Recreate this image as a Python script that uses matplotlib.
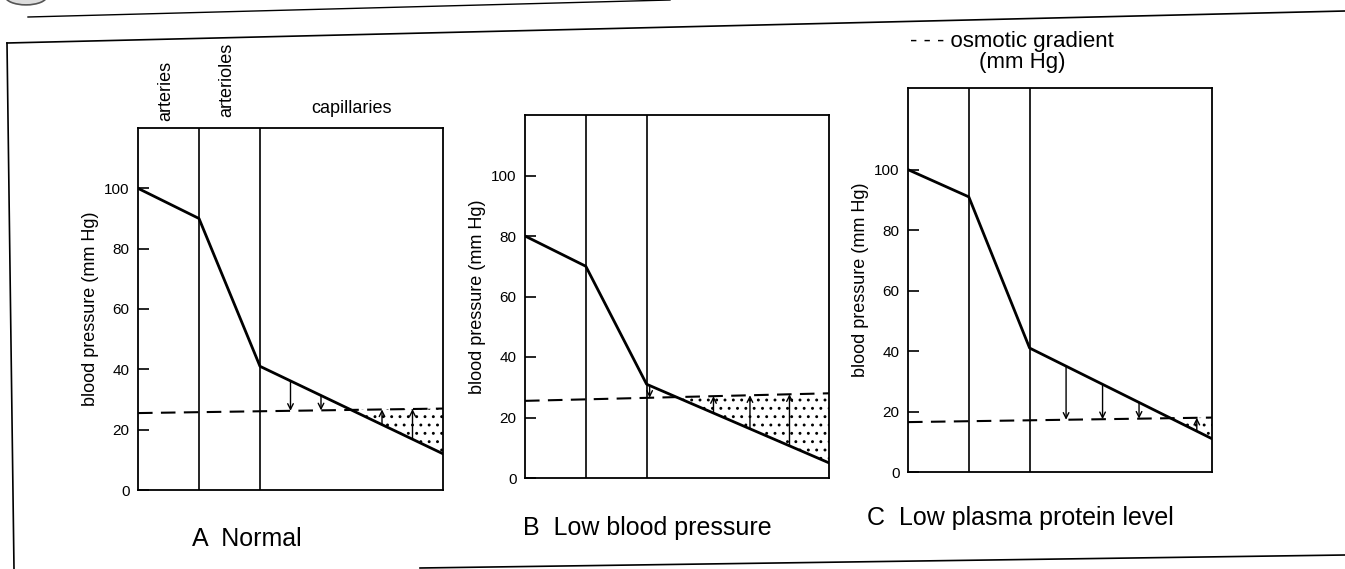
import numpy as np
import matplotlib
matplotlib.use("Agg")
import matplotlib.pyplot as plt
from matplotlib.lines import Line2D
from matplotlib.patches import Circle

plt.rcParams["font.family"] = ["Liberation Sans", "DejaVu Sans"]
plt.rcParams["hatch.linewidth"] = 0.9

# vessel boundaries (relative distance along the circulation)
x_pts = [0, 20, 40, 100]

# blood pressure at the boundaries (mm Hg)
pressure_A = [100, 90, 41, 12]
pressure_B = [80, 70, 31, 5]
pressure_C = [100, 91, 41, 11]

# osmotic gradient, left and right end (mm Hg)
osmotic_x = [0, 100]
osmotic_A = [25.5, 27]
osmotic_B = [25.5, 28]
osmotic_C = [16.5, 18]

# where the small fluid-flow arrows are drawn
arrows_A = [50, 60, 80, 90]
arrows_B = [41, 62, 74, 87]
arrows_C = [52, 64, 76, 95]

captions = ["A  Normal", "B  Low blood pressure", "C  Low plasma protein level"]
yticks = [0, 20, 40, 60, 80, 100]

W, H = 1345, 569
fig = plt.figure(figsize=(W / 100, H / 100), dpi=100)


def px_box(left, top, right, bottom):
    # pixel box -> figure fraction rect
    return [left / W, 1 - bottom / H, (right - left) / W, (bottom - top) / H]


def panel(rect, pressure, osmotic, arrow_x, ytop):
    ax = fig.add_axes(rect)
    ax.set_xlim(0, 100)
    ax.set_ylim(0, ytop)
    for s in ax.spines.values():
        s.set_linewidth(1.3)
    ax.set_xticks([])
    ax.set_yticks(yticks)
    ax.tick_params(axis="y", direction="in", length=8, width=1.2, pad=6, labelsize=11)
    ax.set_ylabel("blood pressure (mm Hg)", fontsize=13, labelpad=4)

    ax.axvline(x_pts[1], color="k", lw=1.2)
    ax.axvline(x_pts[2], color="k", lw=1.2)

    # stippled region where osmotic pull exceeds blood pressure
    xs = np.linspace(x_pts[2], 100, 400)
    p = np.interp(xs, x_pts, pressure)
    o = np.interp(xs, osmotic_x, osmotic)
    ax.fill_between(xs, p, o, where=o > p, interpolate=True,
                    facecolor="none", edgecolor="k", hatch="..", lw=0)

    ax.plot(x_pts, pressure, color="k", lw=2)
    ax.plot(osmotic_x, osmotic, color="k", lw=1.5, dashes=(7, 4))

    for xa in arrow_x:
        y0 = np.interp(xa, x_pts, pressure)
        y1 = np.interp(xa, osmotic_x, osmotic)
        ax.annotate("", xy=(xa, y1), xytext=(xa, y0),
                    arrowprops=dict(arrowstyle="->", lw=1, color="k",
                                    shrinkA=0, shrinkB=0, mutation_scale=10))
    return ax


axA = panel(px_box(138, 128, 443, 490), pressure_A, osmotic_A, arrows_A, 120)
axB = panel(px_box(525, 115, 829, 478), pressure_B, osmotic_B, arrows_B, 120)
axC = panel(px_box(908, 88, 1212, 472), pressure_C, osmotic_C, arrows_C, 127)

# vessel names above panel A
axA.text(9, 1.02, "arteries", transform=axA.get_xaxis_transform(),
         rotation=90, ha="center", va="bottom", fontsize=13)
axA.text(29, 1.03, "arterioles", transform=axA.get_xaxis_transform(),
         rotation=90, ha="center", va="bottom", fontsize=13)
axA.text(70, 1.03, "capillaries", transform=axA.get_xaxis_transform(),
         ha="center", va="bottom", fontsize=13)

# legend text
fig.text(910 / W, 1 - 47 / H, "- - - osmotic gradient", fontsize=16, va="baseline")
fig.text(1022 / W, 1 - 68 / H, "(mm Hg)", fontsize=16, va="baseline", ha="center")

# panel captions
fig.text(192 / W, 1 - 546 / H, captions[0], fontsize=18, va="baseline")
fig.text(523 / W, 1 - 535 / H, captions[1], fontsize=18, va="baseline")
fig.text(867 / W, 1 - 525 / H, captions[2], fontsize=18, va="baseline")


# page frame lines from the scanned book
def page_line(x0, y0, x1, y1, lw=1.2):
    fig.add_artist(Line2D([x0 / W, x1 / W], [1 - y0 / H, 1 - y1 / H],
                          transform=fig.transFigure, color="k", lw=lw))


page_line(28, 17, 670, 0, lw=1.0)
page_line(7, 43, 1345, 11)
page_line(7, 43, 14, 569)
page_line(420, 568, 1345, 555)
fig.add_artist(Circle((26 / W, 1 + 4 / H), 21 / W, transform=fig.transFigure,
                      facecolor="#dddddd", edgecolor="#555555", lw=1.2))

fig.savefig("out.png", dpi=100)
